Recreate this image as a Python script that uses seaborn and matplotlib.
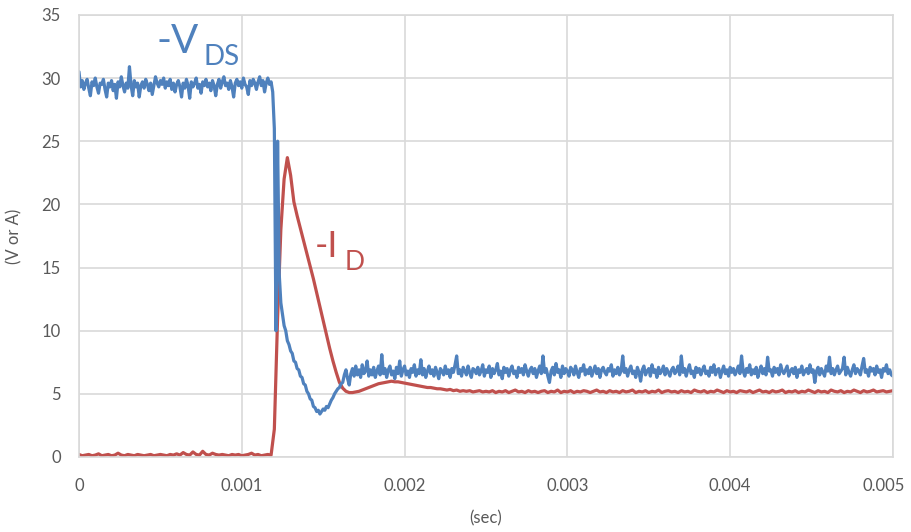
import numpy as np
import pandas as pd
import matplotlib
matplotlib.use('Agg')
import matplotlib.pyplot as plt
import matplotlib.transforms as mtransforms
import seaborn as sns

# scope capture, -VDS sampled every 10 us, -ID every 20 us
dt_vds = 1e-5
dt_id = 2e-5

vds = [
    30.5, 29.3, 29.8, 29.1, 29.6, 29.9, 29.2, 28.6, 29.7, 29.4, 30.0, 29.3, 28.8, 29.6, 29.5, 29.9, 29.1, 28.5, 29.6, 29.3,
    29.8, 29.0, 29.5, 28.4, 29.7, 29.3, 30.1, 29.4, 28.9, 29.6, 29.2, 30.9, 29.4, 28.6, 29.8, 29.3, 29.6, 28.5, 29.4, 29.7,
    29.2, 29.9, 29.5, 29.0, 29.6, 28.7, 29.4, 30.1, 29.6, 29.3, 29.8, 29.5, 30.0, 29.2, 29.7, 29.4, 29.9, 29.1, 29.6, 28.9,
    29.5, 29.8, 29.3, 28.5, 29.6, 29.2, 29.9, 29.4, 28.4, 29.7, 29.3, 29.6, 30.0, 29.2, 29.5, 28.8, 29.7, 29.4, 29.9, 29.3,
    29.6, 29.0, 29.8, 29.4, 28.6, 29.5, 29.9, 29.2, 29.7, 30.1, 29.4, 29.6, 29.1, 29.8, 29.3, 28.5, 29.6, 29.9, 29.4, 29.7,
    29.2, 30.0, 29.5, 29.3, 28.7, 29.8, 29.4, 29.9, 29.6, 29.1, 29.7, 30.1, 29.4, 29.8, 28.9, 29.6, 30.0, 29.5,
    # switching
    29.7, 28.9, 26.0, 10.0, 25.0, 14.5, 12.2, 11.3, 10.4, 10.0, 9.2, 8.9, 8.4, 8.2, 7.6, 7.5, 7.0, 6.9, 6.4, 6.3,
    5.8, 5.7, 5.2, 5.0, 4.6, 4.5, 4.0, 3.9, 3.6, 3.7, 3.4, 3.6, 3.8, 3.7, 4.0, 3.9, 4.2, 4.5, 4.7, 5.0,
    5.2, 5.4, 5.5, 5.8, 5.9, 6.5, 6.9,
    # on state
    6.2, 5.7, 6.6, 7.0, 6.4, 7.2, 6.5, 6.9, 6.3, 7.3, 6.6, 6.8, 7.6, 6.4, 6.9, 6.5, 7.1, 6.3, 6.8, 7.2,
    6.5, 8.1, 6.6, 7.0, 6.3, 6.9, 7.2, 6.5, 6.8, 6.2, 7.1, 6.6, 7.6, 6.4, 6.9, 7.2, 6.5, 6.8, 6.3, 7.0,
    6.7, 7.3, 6.4, 6.9, 6.6, 7.7, 6.5, 7.0, 6.3, 6.8, 7.2, 6.6, 6.9, 6.4, 7.1, 6.7, 6.2, 7.0, 6.8, 6.5,
    7.2, 6.6, 6.9, 6.3, 7.0, 6.7, 7.3, 8.0, 6.6, 6.9, 6.4, 7.1, 6.8, 6.5, 7.2, 6.7, 6.3, 7.0, 6.9, 6.6,
    7.1, 6.5, 6.8, 7.3, 6.4, 6.9, 6.7, 7.2, 6.3, 7.0, 6.6, 6.9, 7.4, 6.5, 6.8, 6.2, 7.1, 6.7, 7.0, 6.4,
    6.9, 7.2, 6.6, 6.8, 6.3, 7.1, 6.7, 7.0, 6.5, 7.3, 6.8, 6.4, 6.9, 7.1, 6.6, 7.0, 6.3, 6.8, 7.2, 6.6,
    8.0, 6.7, 7.0, 6.4, 5.9, 6.8, 7.1, 6.5, 7.4, 6.7, 6.9, 6.3, 7.2, 6.6, 7.0, 6.8, 6.4, 7.1, 6.9, 6.5,
    7.2, 6.7, 6.3, 7.0, 6.8, 7.3, 6.5, 6.9, 6.6, 7.1, 6.4, 6.8, 7.2, 6.6, 7.0, 6.3, 6.9, 7.1, 6.7, 6.5,
    7.0, 6.8, 7.3, 6.4, 6.9, 6.6, 7.1, 6.5, 6.8, 8.0, 6.7, 7.0, 6.4, 6.9, 7.2, 6.6, 6.8, 6.3, 7.1, 6.7,
    6.0, 6.9, 7.2, 6.5, 6.8, 7.0, 6.4, 7.3, 6.7, 6.9, 6.3, 7.1, 6.6, 6.8, 7.2, 6.5, 7.0, 6.7, 6.4, 6.9,
    7.1, 6.6, 6.8, 7.2, 6.5, 8.0, 6.7, 7.0, 6.4, 6.9, 7.3, 6.6, 6.8, 6.3, 7.1, 6.7, 7.0, 6.5, 6.9, 7.2,
    6.6, 6.8, 6.4, 7.1, 6.7, 7.3, 6.5, 6.9, 7.0, 6.3, 6.8, 7.2, 6.6, 6.9, 6.4, 7.1, 6.7, 7.0, 6.5, 6.8,
    7.2, 6.6, 8.0, 6.8, 6.4, 7.0, 6.7, 7.3, 6.5, 6.9, 6.6, 7.1, 6.3, 6.8, 7.2, 6.6, 7.0, 6.5, 7.9, 6.8,
    6.9, 6.4, 7.1, 6.7, 7.0, 6.5, 7.3, 6.8, 6.6, 6.9, 7.2, 6.4, 6.8, 7.0, 6.6, 7.1, 6.3, 6.9, 6.7, 7.2,
    6.5, 6.8, 7.0, 6.6, 7.3, 6.7, 6.9, 5.9, 6.8, 7.1, 6.5, 7.0, 6.7, 6.4, 7.2, 6.8, 7.9, 6.6, 7.0, 6.5,
    6.9, 7.2, 6.6, 6.8, 7.0, 7.9, 6.5, 7.1, 6.7, 6.4, 6.9, 7.3, 6.6, 7.0, 6.8, 6.5, 7.2, 7.8, 6.7, 6.9,
    6.4, 7.1, 6.8, 7.0, 6.5, 7.2, 6.7, 6.9, 6.3, 7.0, 6.8, 7.3, 6.6, 6.9, 6.5, 6.4,
]

idrain = [
    0.2, 0.1, 0.15, 0.2, 0.1, 0.15, 0.25, 0.1, 0.15, 0.2, 0.1, 0.15, 0.3, 0.15, 0.1, 0.2, 0.15, 0.1, 0.2, 0.15,
    0.1, 0.15, 0.2, 0.1, 0.15, 0.2, 0.15, 0.1, 0.2, 0.15, 0.25, 0.15, 0.35, 0.2, 0.15, 0.4, 0.2, 0.15, 0.45, 0.2,
    0.15, 0.3, 0.2, 0.15, 0.2, 0.15, 0.1, 0.2, 0.15, 0.2, 0.1, 0.15, 0.2, 0.3, 0.15, 0.2, 0.1, 0.15, 0.2, 0.15,
    # switching
    2.2, 11.0, 18.0, 22.0, 23.7, 22.3, 20.2, 19.1, 18.1, 17.1, 16.1, 15.1, 14.1, 13.0, 11.9, 10.8, 9.7, 8.6, 7.6, 6.7,
    5.9, 5.45, 5.2, 5.1, 5.1, 5.15, 5.2, 5.3, 5.4, 5.5, 5.6, 5.7, 5.8, 5.85, 5.9, 5.95, 6.0, 5.95, 5.95, 5.9,
    5.85, 5.8, 5.75, 5.7, 5.65, 5.6,
    # on state
    5.55, 5.5, 5.5, 5.45, 5.4, 5.4, 5.35, 5.3, 5.35, 5.25, 5.3, 5.2, 5.25, 5.2, 5.25, 5.15, 5.2, 5.25, 5.15, 5.2,
    5.15, 5.25, 5.1, 5.2, 5.15, 5.25, 5.1, 5.2, 5.3, 5.15, 5.2, 5.1, 5.25, 5.15, 5.2, 5.1, 5.2, 5.25, 5.1, 5.2,
    5.15, 5.3, 5.1, 5.2, 5.15, 5.25, 5.1, 5.2, 5.15, 5.25, 5.2, 5.1, 5.2, 5.3, 5.15, 5.2, 5.1, 5.25, 5.15, 5.2,
    5.1, 5.25, 5.15, 5.2, 5.3, 5.1, 5.2, 5.15, 5.25, 5.1, 5.2, 5.15, 5.3, 5.1, 5.2, 5.25, 5.15, 5.2, 5.1, 5.25,
    5.15, 5.2, 5.1, 5.3, 5.2, 5.15, 5.25, 5.1, 5.2, 5.15, 5.3, 5.2, 5.1, 5.25, 5.15, 5.2, 5.1, 5.25, 5.2, 5.15,
    5.25, 5.1, 5.2, 5.3, 5.15, 5.2, 5.1, 5.25, 5.15, 5.2, 5.3, 5.1, 5.2, 5.15, 5.25, 5.1, 5.2, 5.15, 5.3, 5.2,
    5.1, 5.25, 5.15, 5.2, 5.1, 5.3, 5.2, 5.15, 5.25, 5.1, 5.2, 5.15, 5.3, 5.2, 5.1, 5.25, 5.15, 5.2, 5.3, 5.15,
    5.2, 5.25, 5.15, 5.2, 5.25,
]

xticks = [0, 0.001, 0.002, 0.003, 0.004, 0.005]
xticklabels = ['0', '0.001', '0.002', '0.003', '0.004', '0.005']
yticks = [0, 5, 10, 15, 20, 25, 30, 35]

blue = '#4F81BD'
red = '#C0504D'
grey = '#595959'

dfV = pd.DataFrame({'t': np.arange(len(vds)) * dt_vds, 'v': vds})
dfI = pd.DataFrame({'t': np.arange(len(idrain)) * dt_id, 'v': idrain})

sns.set_theme(style='whitegrid')
plt.rcParams['font.family'] = ['Lato', 'DejaVu Sans']

fig = plt.figure(figsize=(9.11, 5.32), dpi=100)
ax = fig.add_axes([0.0867, 0.141, 0.8935, 0.831])

sns.lineplot(data=dfI, x='t', y='v', color=red, linewidth=2.3, ax=ax)
sns.lineplot(data=dfV, x='t', y='v', color=blue, linewidth=2.3, ax=ax)

ax.set_xlim(0, 0.005)
ax.set_ylim(0, 35)
ax.set_xticks(xticks)
ax.set_xticklabels(xticklabels)
ax.set_yticks(yticks)
ax.grid(True, color='#D9D9D9', linewidth=1.2)
for s in ax.spines.values():
    s.set_color('#D9D9D9')
    s.set_linewidth(1.2)
ax.tick_params(axis='both', length=0, colors=grey, labelsize=12)
ax.tick_params(axis='x', pad=15)
ax.tick_params(axis='y', pad=13)
ax.set_xlabel('(sec)', color=grey, fontsize=12, labelpad=12)
ax.set_ylabel('(V or A)', color=grey, fontsize=12, labelpad=14)

# last x label pulled inside the figure, as Excel does
last = ax.get_xticklabels()[-1]
last.set_transform(last.get_transform() +
                   mtransforms.ScaledTranslation(-0.09, 0, fig.dpi_scale_trans))

ax.text(0.000479, 32.0, '-V', color=blue, fontsize=29)
ax.text(0.000762, 31.0, 'DS', color=blue, fontsize=20)
ax.text(0.00145, 15.8, '-I', color=red, fontsize=26)
ax.text(0.00163, 14.8, 'D', color=red, fontsize=19)

fig.savefig('out.png', dpi=100)
